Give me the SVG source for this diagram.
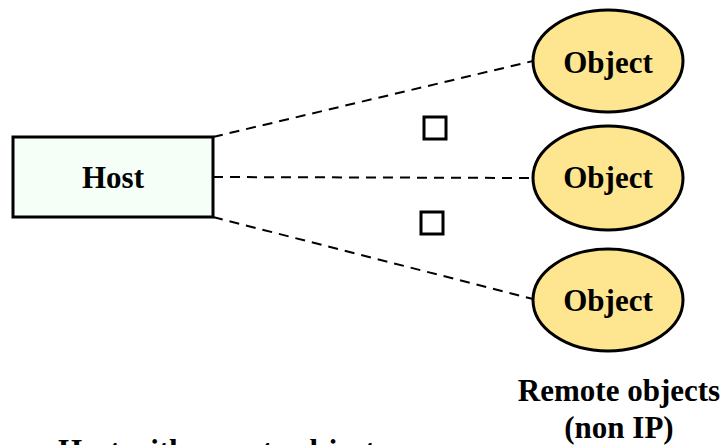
<svg xmlns="http://www.w3.org/2000/svg" width="727" height="445" viewBox="0 0 727 445">
<style>
.t{font-family:"Liberation Serif","Times New Roman",serif;font-weight:bold;font-size:31px;fill:#000;text-anchor:middle}
.obj{fill:#fde68f;stroke:#000;stroke-width:3}
.conn{stroke:#000;stroke-width:2;stroke-dasharray:10,7;fill:none}
.sq{fill:#fff;stroke:#000;stroke-width:3}
</style>
<rect width="727" height="445" fill="#fff"/>
<g id="connectors">
<line class="conn" x1="213" y1="137" x2="533" y2="61"/>
<line class="conn" x1="213" y1="177" x2="533" y2="178"/>
<line class="conn" x1="213" y1="217" x2="533" y2="299"/>
</g>
<g id="host">
<rect x="13" y="137" width="200" height="80" fill="#f5fff8" stroke="#000" stroke-width="3"/>
<text class="t" x="113" y="188">Host</text>
</g>
<g id="object1">
<ellipse class="obj" cx="608" cy="61" rx="75" ry="51"/>
<text class="t" x="608" y="73">Object</text>
</g>
<g id="object2">
<ellipse class="obj" cx="608" cy="178" rx="75" ry="52"/>
<text class="t" x="608" y="188">Object</text>
</g>
<g id="object3">
<ellipse class="obj" cx="608" cy="300" rx="75" ry="51"/>
<text class="t" x="608" y="311">Object</text>
</g>
<g id="markers">
<rect class="sq" x="424" y="117" width="22" height="22"/>
<rect class="sq" x="421" y="212" width="22" height="22"/>
</g>
<g id="labels">
<text class="t" x="619" y="401">Remote objects</text>
<text class="t" x="619" y="438">(non IP)</text>
<text class="t" x="58" y="461" style="text-anchor:start">Host with remote objects</text>
</g>
</svg>
